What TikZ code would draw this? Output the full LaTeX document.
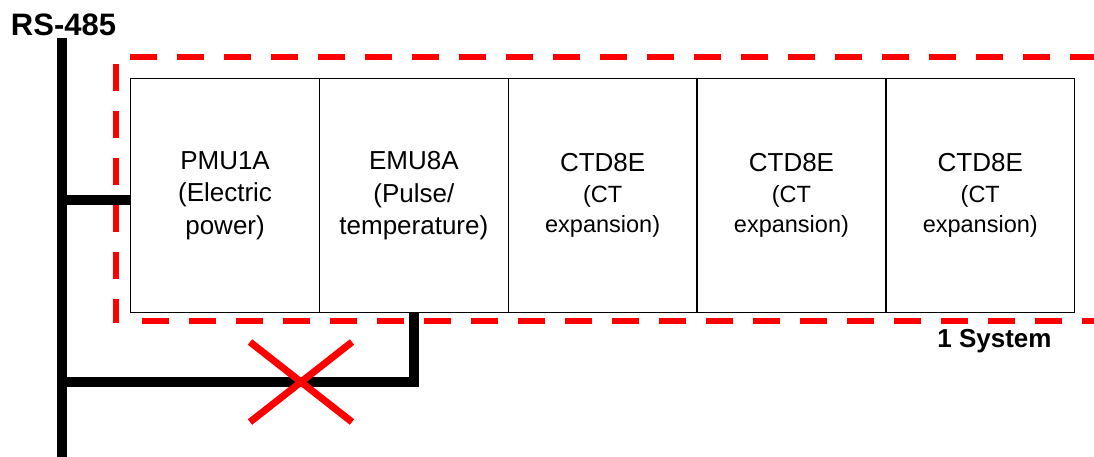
\documentclass[tikz,border=0pt]{standalone}
\usepackage{fontspec}
\setmainfont{Liberation Sans}
\begin{document}
\begin{tikzpicture}[x=1pt,y=-1pt,
  unit/.style={draw=black, line width=1.3pt, minimum width=188.8pt, minimum height=234pt, inner sep=0pt, align=center, anchor=north west, font=\fontsize{26}{32.5}\selectfont},
  ctunit/.style={unit, font=\fontsize{23.5}{30.5}\selectfont},
  bus/.style={draw=black, line width=10pt},
  frame/.style={draw=red, line width=6pt, dash pattern=on 27pt off 20pt},
  cross/.style={draw=red, line width=7pt},
  lbl/.style={anchor=base, inner sep=0pt}]
\useasboundingbox (0,0) rectangle (1094,456);
\clip (0,0) rectangle (1094,456);
% units
\node[unit] (pmu) at (130,78) {PMU1A\\(Electric\\power)};
\node[unit] (emu) at (318.8,78) {EMU8A\\(Pulse/\\temperature)};
\node[ctunit] (ct1) at (507.6,78) {{\fontsize{26}{30.5}\selectfont CTD8E}\\(CT\\expansion)};
\node[ctunit] (ct2) at (696.4,78) {{\fontsize{26}{30.5}\selectfont CTD8E}\\(CT\\expansion)};
\node[ctunit] (ct3) at (885.2,78) {{\fontsize{26}{30.5}\selectfont CTD8E}\\(CT\\expansion)};
% system frame
\coordinate (ftl) at (130,57);
\coordinate (ftr) at (1100,57);
\coordinate (flt) at (116,64);
\coordinate (flb) at (116,323);
\coordinate (fbl) at (142,321);
\coordinate (fbr) at (1100,321);
\draw[frame] (ftl) -- (ftr);
\draw[frame] (flt) -- (flb);
\draw[frame] (fbl) -- (fbr);
% bus
\coordinate (bustop) at (62,38);
\coordinate (busbot) at (62,462);
\draw[bus] (bustop) -- (busbot);
\coordinate (tap1) at ([yshift=-4pt]pmu.west);
\draw[bus] (bustop |- tap1) -- (tap1);
\coordinate (tap2) at (62,382);
\draw[bus] (tap2) -| (emu.south);
% cross
\coordinate (xc) at (301,382);
\draw[cross] (xc) ++(-51,-40) -- ++(102,80);
\draw[cross] (xc) ++(51,-40) -- ++(-102,80);
% labels
\node[lbl, font=\bfseries\fontsize{31}{31}\selectfont] (rs) at (63.5,35) {RS-485};
\node[lbl, font=\bfseries\fontsize{26}{26}\selectfont] (sys) at (994.5,347) {1 System};
\end{tikzpicture}
\end{document}
